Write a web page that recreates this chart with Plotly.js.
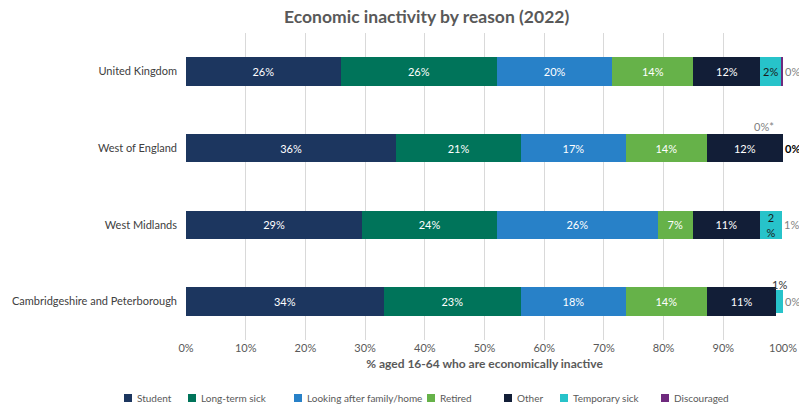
<!DOCTYPE html>
<html>
<head>
<meta charset="utf-8">
<script src="https://cdn.plot.ly/plotly-3.0.1.min.js"></script>
<style>html,body{margin:0;padding:0;background:#fff;}#chart{width:799px;height:408px;}</style>
</head>
<body>
<div id="chart"></div>
<script>
const regions = ["United Kingdom", "West of England", "West Midlands", "Cambridgeshire and Peterborough"];
const seriesNames = ["Student", "Long-term sick", "Looking after family/home", "Retired", "Other", "Temporary sick", "Discouraged"];
const colors = ["#1c365f", "#00745a", "#2881c8", "#66b249", "#121e37", "#27c3ca", "#6f2a7e"];

// values (% of economically inactive aged 16-64)
const student      = [25.9, 35.2, 29.5, 33.1];
const longTermSick = [26.2, 20.9, 22.6, 23.0];
const lookingAfter = [19.3, 17.6, 26.9, 17.6];
const retired      = [13.6, 13.5, 5.9, 13.5];
const other        = [11.2, 12.8, 11.2, 11.7];
const temporarySick= [3.5, 0.0, 3.8, 1.1];
const discouraged  = [0.3, 0.0, 0.0, 0.0];

// data labels as shown on the chart
const studentLbl  = ["26%", "36%", "29%", "34%"];
const ltsLbl      = ["26%", "21%", "24%", "23%"];
const lookLbl     = ["20%", "17%", "26%", "18%"];
const retiredLbl  = ["14%", "14%", "7%", "14%"];
const otherLbl    = ["12%", "12%", "11%", "11%"];
const tempLbl     = ["2%", "", "2<br>%", ""];
const discLbl     = ["0%", "<b>0%</b>", "1%", "0%"];
const tickVals = [0,10,20,30,40,50,60,70,80,90,100];
const tickText = ["0%","10%","20%","30%","40%","50%","60%","70%","80%","90%","100%"];

const allVals = [student, longTermSick, lookingAfter, retired, other, temporarySick, discouraged];
const allLbls = [studentLbl, ltsLbl, lookLbl, retiredLbl, otherLbl, tempLbl, [" ", " ", " ", " "]];

const FONT = "Lato, 'Open Sans', sans-serif";
const traces = allVals.map((vals, i) => {
  const t = {
    type: "bar",
    orientation: "h",
    name: seriesNames[i],
    y: regions,
    x: vals,
    text: allLbls[i],
    texttemplate: "%{text}",
    textposition: i === 6 ? "none" : "inside",
    insidetextanchor: "middle",
    constraintext: "none",
    textangle: 0,
    textfont: {family: FONT, size: 11, color: "#ffffff"},
    marker: {color: colors[i], line: {width: 0}},
    width: 0.37,
    showlegend: false,
    hoverinfo: "name+x"
  };
  if (i === 5) {
    t.textfont.color = "#1a1a1a";
    t.width = [0.37, 0.37, 0.37, 0.3];
  }
  return t;
});

// cumulative positions for label placement
const totals = regions.map((_, r) => allVals.reduce((s, v) => s + v[r], 0));
const cumOther = regions.map((_, r) => student[r] + longTermSick[r] + lookingAfter[r] + retired[r] + other[r]);
const annotations = [];
regions.forEach((reg, r) => {
  annotations.push({x: totals[r], y: reg, xref: "x", yref: "y", text: discLbl[r], showarrow: false,
    xanchor: "left", xshift: 0, font: {family: FONT, size: 11, color: r === 1 ? "#000000" : "#7f7f7f"}});
});
annotations.push({x: cumOther[1], y: regions[1], xref: "x", yref: "y", text: "0%*", showarrow: false,
   xanchor: "right", xshift: -7, yshift: 22, font: {family: FONT, size: 11, color: "#7f7f7f"}});
annotations.push({x: cumOther[3] + temporarySick[3] / 2, y: regions[3], xref: "x", yref: "y", text: "1%", showarrow: false,
   yshift: 17, font: {family: FONT, size: 11, color: "#333333"}});

// plot area (px) and custom legend row (marker left edges in px)
const PL = 186, PW = 597, PB = 340, PH = 307;
const legendLeftPx = [124, 188, 294, 427, 504, 560, 661];
const legendY = 398;
const shapes = [];
seriesNames.forEach((nm, i) => {
  const x0 = legendLeftPx[i];
  shapes.push({type: "rect", xref: "paper", yref: "paper", layer: "above",
    x0: (x0 - PL) / PW, x1: (x0 + 8 - PL) / PW,
    y0: (PB - (legendY + 4)) / PH, y1: (PB - (legendY - 4)) / PH,
    fillcolor: colors[i], line: {width: 0}});
  annotations.push({x: (x0 + 11 - PL) / PW, y: (PB - legendY) / PH, xref: "paper", yref: "paper",
    xanchor: "left", yanchor: "middle", showarrow: false, text: nm,
    font: {family: FONT, size: 10, color: "#595959"}});
});

const layout = {
  width: 799, height: 408,
  margin: {l: PL, r: 799 - PL - PW, t: PB - PH, b: 408 - PB},
  paper_bgcolor: "#ffffff", plot_bgcolor: "#ffffff",
  barmode: "stack",
  showlegend: false,
  title: {text: "<b>Economic inactivity by reason (2022)</b>", x: 0.534, xanchor: "center", xref: "container",
          y: 0.958, yanchor: "middle", font: {family: FONT, size: 17.5, color: "#595959"}},
  xaxis: {range: [0, 100], tickvals: tickVals, ticktext: tickText, showgrid: true, gridcolor: "#d9d9d9", gridwidth: 1,
          zeroline: false, showline: false, ticks: "", tickfont: {family: FONT, size: 11, color: "#595959"},
          title: {text: "<b>% aged 16-64 who are economically inactive</b>", standoff: 6, font: {family: FONT, size: 12, color: "#595959"}},
          fixedrange: true, automargin: false},
  yaxis: {autorange: "reversed", showgrid: false, zeroline: false, showline: false, ticks: "", ticklabelstandoff: 8,
          tickfont: {family: FONT, size: 11, color: "#404040"}, fixedrange: true, automargin: false},
  annotations: annotations,
  shapes: shapes,
  bargap: 0.6
};

Plotly.newPlot("chart", traces, layout, {displayModeBar: false, staticPlot: true});
</script>
</body>
</html>
